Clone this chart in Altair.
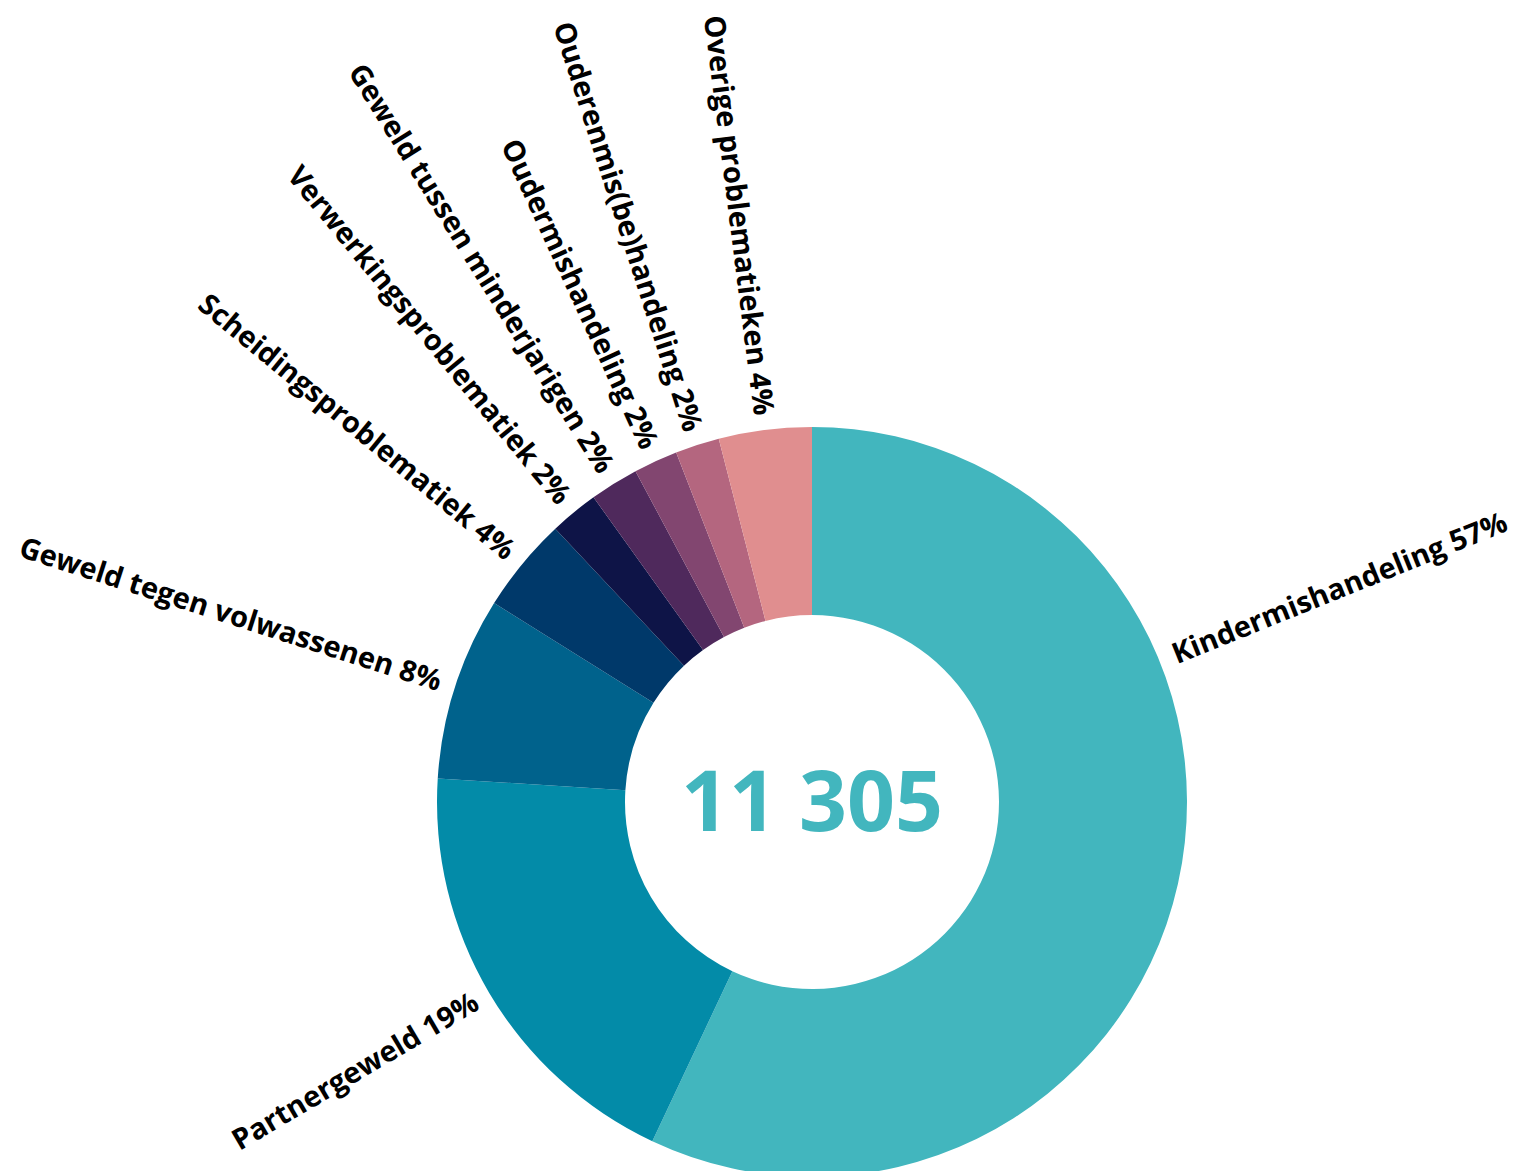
import altair as alt
import pandas as pd

categories = [
    "Kindermishandeling",
    "Partnergeweld",
    "Geweld tegen volwassenen",
    "Scheidingsproblematiek",
    "Verwerkingsproblematiek",
    "Geweld tussen minderjarigen",
    "Oudermishandeling",
    "Ouderenmis(be)handeling",
    "Overige problematieken",
]
shares = [57.0, 19.0, 7.9, 4.1, 2.1, 2.1, 1.9, 1.9, 4.0]
pct_labels = ["57%", "19%", "8%", "4%", "2%", "2%", "2%", "2%", "4%"]
colors = ["#42b6be", "#038ba8", "#00628c", "#00396a", "#0e1447",
          "#4f295c", "#824670", "#b4667f", "#e08e8f"]
total_label = "11 305"

df = pd.DataFrame({
    "idx": list(range(len(categories))),
    "cat": categories,
    "share": shares,
    "label": [f"{c} {p}" for c, p in zip(categories, pct_labels)],
})

CX, CY = 804, 794
R_IN, R_OUT, R_LAB = 187, 375, 390
FONT = "Open Sans"
LABEL_SIZE = 29
# layout setting: right-hand labels are tilted upward at most to this angle so they fit
MAX_RIGHT_LABEL_DEG = 68

base = alt.Chart(df)

arcs = base.mark_arc(innerRadius=R_IN, outerRadius=R_OUT, stroke=None).encode(
    x=alt.value(CX),
    y=alt.value(CY),
    theta=alt.Theta("share:Q", stack=True),
    order=alt.Order("idx:Q"),
    color=alt.Color("cat:N", scale=alt.Scale(domain=categories, range=colors), legend=None),
)

lab = base.transform_window(
    cum="sum(share)", sort=[alt.SortField("idx")]
).transform_joinaggregate(
    tot="sum(share)"
).transform_calculate(
    mid="(datum.cum - datum.share / 2) / datum.tot * 360"
).transform_calculate(
    lt=f"datum.mid < 180 ? min(datum.mid, {MAX_RIGHT_LABEL_DEG}) : datum.mid",
    right="datum.mid < 180",
).transform_calculate(
    ang="datum.right ? (datum.lt + 270) % 360 : (datum.lt + 90) % 360",
)

theta_lab = alt.Theta("lt:Q", stack=None,
                      scale=alt.Scale(domain=[0, 360], range=[0, 6.283185307179586]))

text_right = lab.transform_filter("datum.right").mark_text(
    align="left", baseline="middle", font=FONT, fontWeight="bold", fontSize=LABEL_SIZE,
    color="#000000", radius=R_LAB,
).encode(
    x=alt.value(CX), y=alt.value(CY),
    theta=theta_lab,
    angle=alt.Angle("ang:Q", scale=None),
    text="label:N",
)

text_left = lab.transform_filter("!datum.right").mark_text(
    align="right", baseline="middle", font=FONT, fontWeight="bold", fontSize=LABEL_SIZE,
    color="#000000", radius=R_LAB,
).encode(
    x=alt.value(CX), y=alt.value(CY),
    theta=theta_lab,
    angle=alt.Angle("ang:Q", scale=None),
    text="label:N",
)

center = alt.Chart(pd.DataFrame({"t": [total_label]})).mark_text(
    align="center", baseline="middle", font=FONT, fontWeight="bold", fontSize=84,
    color=colors[0],
).encode(x=alt.value(CX), y=alt.value(CY + 4), text="t:N")

chart = alt.layer(arcs, text_right, text_left, center).resolve_scale(
    theta="independent"
).properties(
    width=1504, height=1163, padding=0, autosize="none"
).configure_view(stroke=None)

chart.save("out.html", embed_options={"renderer": "svg", "actions": False})
